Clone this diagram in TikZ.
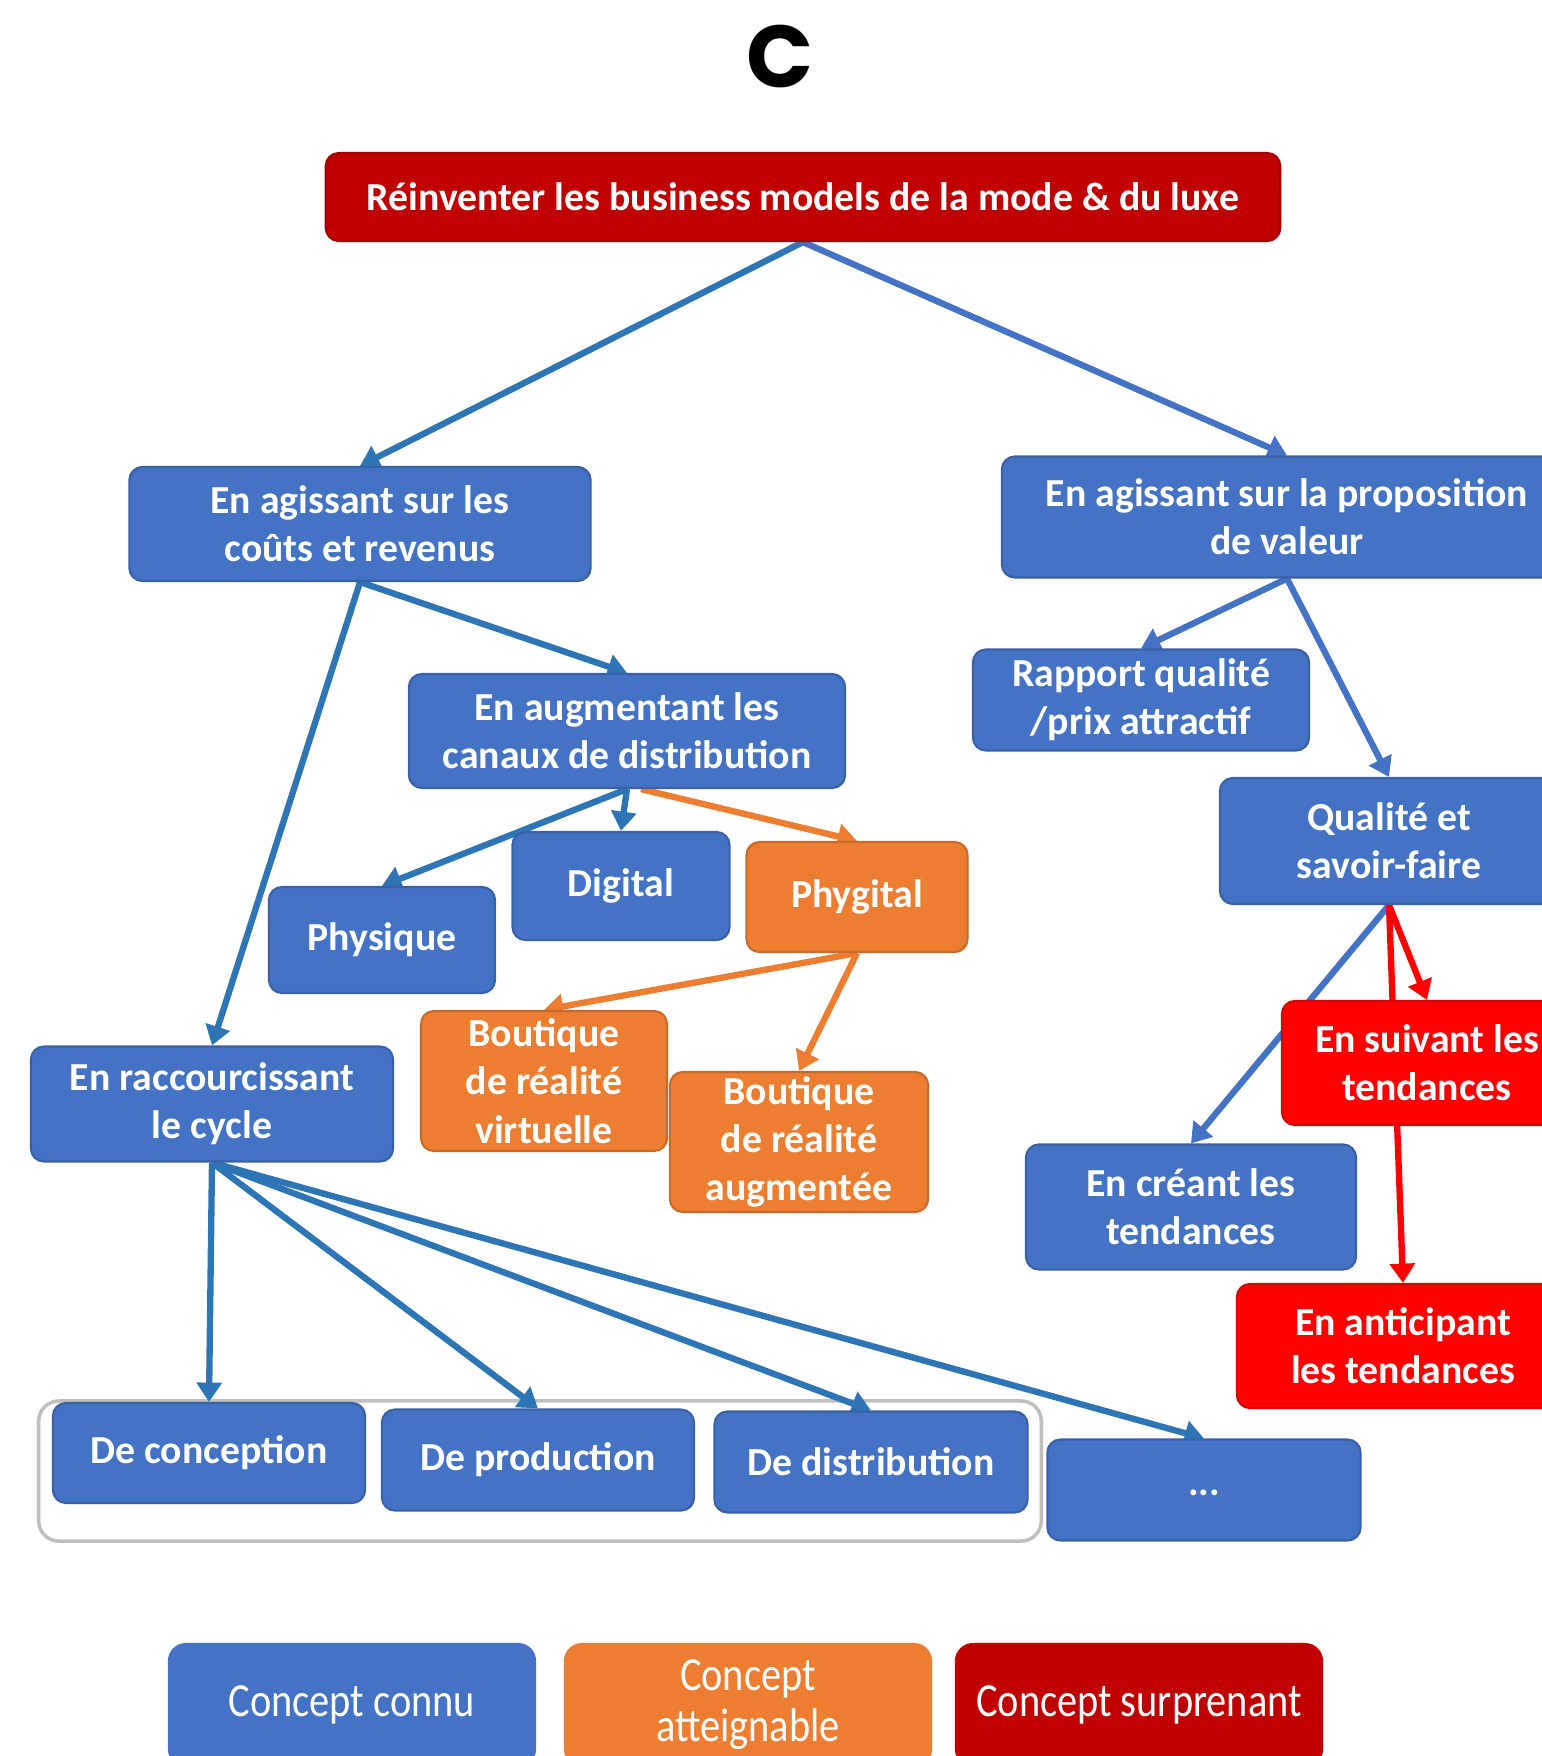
\documentclass[tikz,border=0pt]{standalone}
\usepackage{fontspec}
\setmainfont{Carlito}
\newfontfamily\titrefont{Poppins}
\newfontfamily\legendefont[FakeStretch=0.85]{Carlito}
\usetikzlibrary{arrows.meta,backgrounds}

\definecolor{bleu}{HTML}{4472C4}
\definecolor{bleuF}{HTML}{2E75B6}
\definecolor{orangeC}{HTML}{ED7D31}
\definecolor{rougeF}{HTML}{C00000}
\definecolor{rougeV}{HTML}{FF0000}
\definecolor{gris}{HTML}{BFBFBF}

\tikzset{
  boite/.style={rounded corners=0.13cm, align=center, text=white, inner sep=0pt,
    font=\fontsize{11.3}{13.7}\selectfont\bfseries, line width=0.6pt},
  connu/.style={boite, fill=bleu, draw=bleu!85!black},
  atteignable/.style={boite, fill=orangeC, draw=orangeC!85!black},
  surprenant/.style={boite, fill=rougeV, draw=rougeV!85!black},
  racine/.style={boite, fill=rougeF, draw=rougeF!85!black},
  legende/.style={rounded corners=0.18cm, align=center, text=white, inner sep=0pt,
    font=\legendefont\fontsize{13.5}{14.5}\selectfont, minimum width=3.68cm, minimum height=1.24cm},
  fleche/.style={line width=1.8pt, -{Triangle[width=7pt,length=5.5pt]}},
}

\begin{document}
\begin{tikzpicture}[x=0.01cm, y=-0.01cm]

\clip (0,0) rectangle (1542,1756) ;

\node (titre) at (780,56) {\titrefont\bfseries\fontsize{25}{25}\selectfont C} ;

\node[racine, minimum width=9.54cm, minimum height=0.88cm] (modele) at (803,197) {Réinventer les business models de la mode \& du luxe} ;

\node[connu, minimum width=4.61cm, minimum height=1.14cm] (couts) at (360,524) {En agissant sur les\\coûts et revenus} ;
\node[connu, minimum width=5.70cm, minimum height=1.21cm] (valeur) at (1287,517) {En agissant sur la proposition\\de valeur} ;

\node[connu, minimum width=4.36cm, minimum height=1.14cm] (canaux) at (627,731) {En augmentant les\\canaux de distribution} ;
\node[connu, minimum width=2.26cm, minimum height=1.06cm] (physique) at (382,940) {Physique} ;
\node[connu, minimum width=2.17cm, minimum height=1.08cm] (digital) at (621,886) {Digital} ;
\node[atteignable, minimum width=2.21cm, minimum height=1.10cm] (phygital) at (857,897) {Phygital} ;
\node[atteignable, minimum width=2.46cm, minimum height=1.40cm] (virtuelle) at (544,1081) {Boutique\\de réalité\\virtuelle} ;
\node[atteignable, minimum width=2.58cm, minimum height=1.40cm] (augmentee) at (799,1142) {Boutique\\de réalité\\augmentée} ;

\node[connu, minimum width=3.36cm, minimum height=1.01cm] (rapport) at (1141,700) {Rapport qualité\\/prix attractif} ;
\node[connu, minimum width=3.38cm, minimum height=1.26cm] (qualite) at (1389,841) {Qualité et\\savoir-faire} ;
\node[surprenant, minimum width=2.90cm, minimum height=1.24cm] (suivant) at (1427,1063) {En suivant les\\tendances} ;
\node[connu, minimum width=3.30cm, minimum height=1.25cm] (creant) at (1191,1207) {En créant les\\tendances} ;
\node[surprenant, minimum width=3.32cm, minimum height=1.24cm] (anticipant) at (1403,1346) {En anticipant\\les tendances} ;

\node[connu, minimum width=3.62cm, minimum height=1.15cm] (cycle) at (212,1104) {En raccourcissant\\le cycle} ;

\begin{scope}
\node[connu, minimum width=3.12cm, minimum height=1.00cm] (conception) at (209,1453) {De conception} ;
\node[connu, minimum width=3.12cm, minimum height=1.01cm] (production) at (538,1460) {De production} ;
\node[connu, minimum width=3.13cm, minimum height=1.01cm] (distribution) at (871,1462) {De distribution} ;
\node[connu, minimum width=3.13cm, minimum height=1.01cm] (autres) at (1204,1490) {\raisebox{-3pt}{...}} ;
\end{scope}

\begin{scope}[shift={(0,1705)}]
\node[legende, fill=bleu] (lconnu) at (352,0) {Concept connu} ;
\node[legende, fill=orangeC] (latteignable) at (748,0) {Concept\\atteignable} ;
\node[legende, fill=rougeF] (lsurprenant) at (1139,0) {Concept surprenant} ;
\end{scope}

\begin{pgfonlayer}{background}
\node[draw=gris, fill=white, line width=1pt, rounded corners=0.2cm, minimum width=10.02cm, minimum height=1.40cm] (groupe) at (540,1471) {} ;

\draw[fleche, bleuF] (modele.south) -- (couts.north) ;
\draw[fleche, bleu] (modele.south) -- (valeur.north) ;

\draw[fleche, bleuF] (couts.south) -- (canaux.north) ;
\draw[fleche, bleuF] (couts.south) -- (cycle.north) ;
\draw[fleche, bleuF] (canaux.south) -- (physique.north) ;
\draw[fleche, bleuF] (canaux.south) -- (digital.north) ;
\draw[fleche, orangeC] ([xshift=4pt]canaux.south) -- (phygital.north) ;
\draw[fleche, orangeC] (phygital.south) -- (virtuelle.north) ;
\draw[fleche, orangeC] (phygital.south) -- (augmentee.north) ;

\draw[fleche, bleu] (valeur.south) -- (rapport.north) ;
\draw[fleche, bleu] (valeur.south) -- (qualite.north) ;
\draw[fleche, bleu] (qualite.south) -- (creant.north) ;
\draw[fleche, rougeV] (qualite.south) -- (suivant.north) ;
\draw[fleche, rougeV] (qualite.south) -- (anticipant.north) ;

\draw[fleche, bleuF] (cycle.south) -- (conception.north) ;
\draw[fleche, bleuF] (cycle.south) -- (production.north) ;
\draw[fleche, bleuF] (cycle.south) -- (distribution.north) ;
\draw[fleche, bleuF] (cycle.south) -- (autres.north) ;
\end{pgfonlayer}

\end{tikzpicture}
\end{document}
